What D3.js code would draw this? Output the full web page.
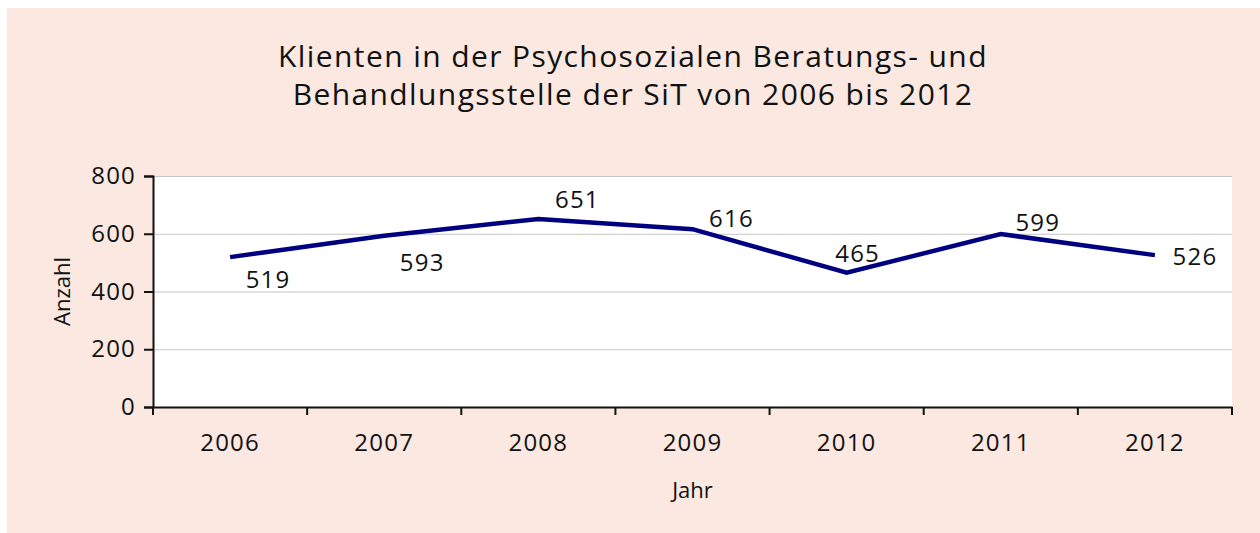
<!DOCTYPE html>
<html>
<head>
<meta charset="utf-8">
<script src="https://cdn.jsdelivr.net/npm/d3@7"></script>
<style>
  html, body { margin: 0; padding: 0; background: #ffffff; }
  svg { display: block; }
  text { font-family: "Open Sans", "Noto Sans", sans-serif; fill: #111; }
</style>
</head>
<body>
<svg id="chart" width="1260" height="533"></svg>
<script>
const titleLines = ["Klienten in der Psychosozialen Beratungs- und", "Behandlungsstelle der SiT von 2006 bis 2012"];
const years = ["2006", "2007", "2008", "2009", "2010", "2011", "2012"];
const clients = [519, 593, 651, 616, 465, 599, 526];
const yTicks = [0, 200, 400, 600, 800];
const xAxisTitle = "Jahr";
const yAxisTitle = "Anzahl";
const labelPos = ["below", "below", "above", "above", "above", "above", "right"];

const svg = d3.select("#chart");
const W = 1260, H = 533;
const m = { left: 153, right: 1232, top: 176, bottom: 407 };

svg.append("rect").attr("x", 7).attr("y", 8).attr("width", W - 7).attr("height", H - 8).attr("fill", "#FAE8E1");
svg.append("rect").attr("x", m.left).attr("y", m.top).attr("width", m.right - m.left).attr("height", m.bottom - m.top).attr("fill", "#ffffff");

const x = d3.scaleBand().domain(years).range([m.left, m.right]).padding(0);
const y = d3.scaleLinear().domain([0, 800]).range([m.bottom, m.top]);

// gridlines
svg.append("g").selectAll("line").data(yTicks.filter(d => d > 0)).join("line")
  .attr("x1", m.left).attr("x2", m.right)
  .attr("y1", d => y(d) + 0.5).attr("y2", d => y(d) + 0.5)
  .attr("stroke", "#c4c4c4").attr("stroke-width", 1);

// title
svg.append("g").selectAll("text").data(titleLines).join("text")
  .attr("x", 633).attr("y", (d, i) => 67 + i * 38)
  .attr("text-anchor", "middle")
  .style("font-size", "30px").style("letter-spacing", "1.4px")
  .text(d => d);

// y axis
const yAxis = d3.axisLeft(y).tickValues(yTicks).tickSize(9).tickPadding(8).tickFormat(d3.format("d"));
const gy = svg.append("g").attr("transform", `translate(${m.left},0)`).call(yAxis);
gy.select(".domain").attr("stroke", "#111").attr("stroke-width", 2);
gy.selectAll(".tick line").attr("stroke", "#111").attr("stroke-width", 2);
gy.selectAll(".tick text").style("font-size", "24px").style("letter-spacing", "1.2px").attr("fill", "#111");

// x axis
const xAxis = d3.axisBottom(x).tickSize(0).tickPadding(27);
const gx = svg.append("g").attr("transform", `translate(0,${m.bottom})`).call(xAxis);
gx.select(".domain").attr("stroke", "#111").attr("stroke-width", 2);
gx.selectAll(".tick text").style("font-size", "24px").style("letter-spacing", "1.2px").attr("fill", "#111");
const sepPositions = years.map(d => x(d)).concat([x(years[years.length - 1]) + x.bandwidth()]);
svg.append("g").selectAll("line").data(sepPositions).join("line")
  .attr("x1", d => d).attr("x2", d => d)
  .attr("y1", m.bottom).attr("y2", m.bottom + 8)
  .attr("stroke", "#111").attr("stroke-width", 2);

// axis titles
svg.append("text").attr("x", (m.left + m.right) / 2).attr("y", 498)
  .attr("text-anchor", "middle").style("font-size", "22px").text(xAxisTitle);
svg.append("text").attr("transform", `translate(70,${(m.top + m.bottom) / 2}) rotate(-90)`)
  .attr("text-anchor", "middle").style("font-size", "22px").text(yAxisTitle);

// line
const cx = d => x(d) + x.bandwidth() / 2;
const line = d3.line().x((d, i) => cx(years[i])).y(d => y(d));
svg.append("path").datum(clients).attr("d", line)
  .attr("fill", "none").attr("stroke", "#000080").attr("stroke-width", 4.5).attr("stroke-linejoin", "miter");

// data labels
const dxs = [38, 38, 39, 39, 11, 37, 40];
const dys = [31, 35, -11, -2, -11, -3, 10];
svg.append("g").selectAll("text").data(clients).join("text")
  .attr("x", (d, i) => cx(years[i]) + dxs[i])
  .attr("y", (d, i) => y(d) + dys[i])
  .attr("text-anchor", "middle")
  .style("font-size", "24px").style("letter-spacing", "1.2px")
  .text(d => d);
</script>
</body>
</html>
